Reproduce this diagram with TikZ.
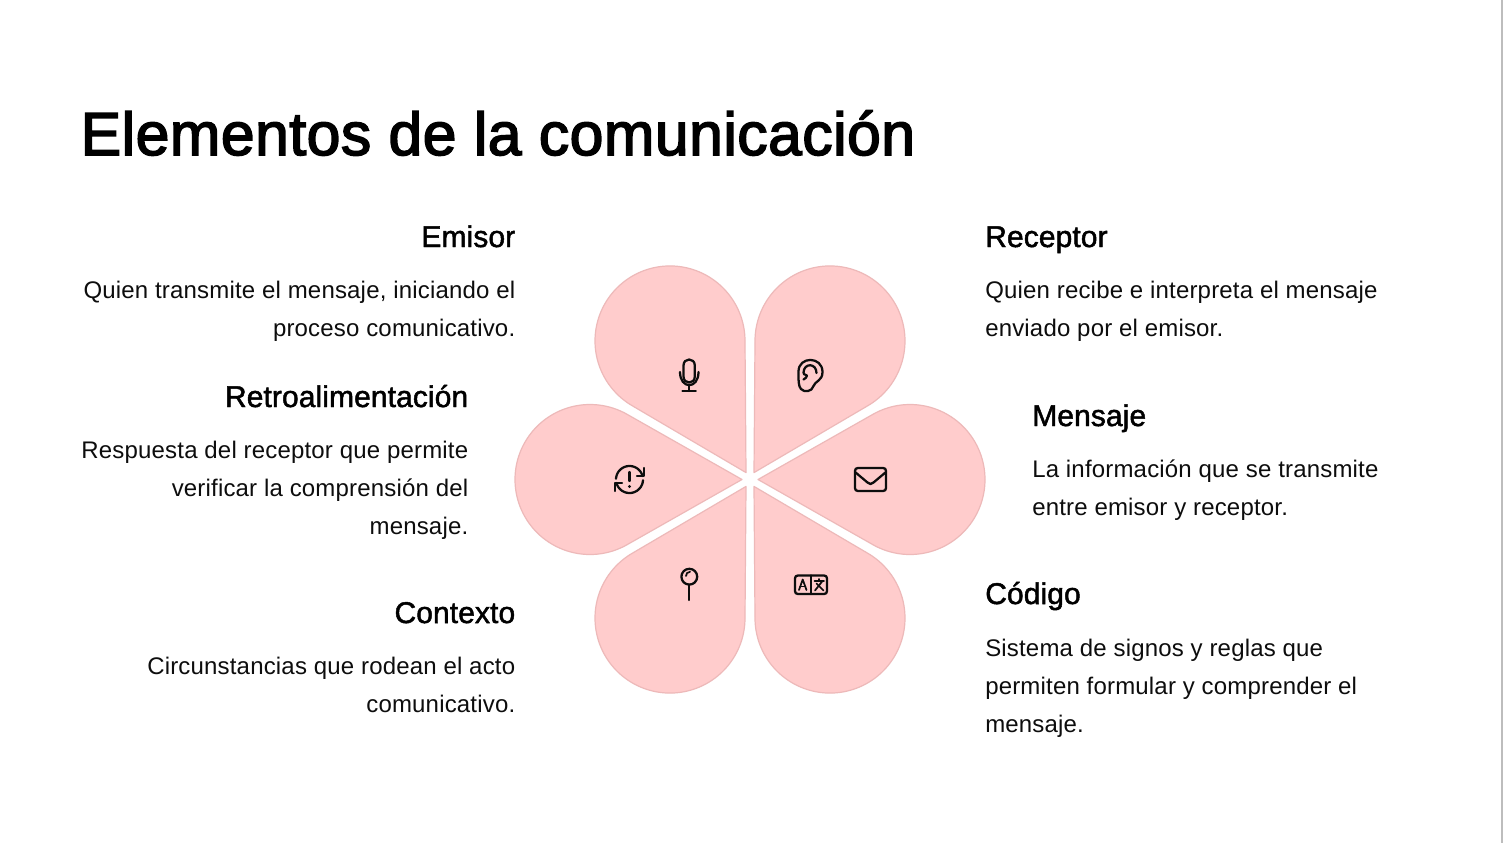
\documentclass[tikz,border=0pt]{standalone}
\usepackage{fontspec}
\setmainfont{Liberation Sans}
\newfontfamily\bodyf{Liberation Sans}[LetterSpace=0.75]
\newfontfamily\headf{Liberation Sans}[LetterSpace=0.3,FakeBold=1.6]
\newfontfamily\titlef{Liberation Sans}[LetterSpace=0.8,FakeBold=2.6]
\definecolor{petalfill}{HTML}{FFCCCC}
\definecolor{petaledge}{HTML}{EDB9B9}
\definecolor{inkc}{HTML}{0D0D0D}
\definecolor{edgec}{HTML}{BDBDBD}
\tikzset{
  x=0.75pt,y=-0.75pt,
  petal/.style={fill=petalfill,draw=petaledge,line width=0.9pt,line join=round},
  icon/.style={draw=inkc,line width=1.7pt,line cap=round,line join=round},
  thinicon/.style={draw=inkc,line width=1.3pt,line cap=round,line join=round},
  titletext/.style={inner sep=0pt,anchor=base west,text=black,font=\titlef\fontsize{45.5pt}{54pt}\selectfont},
  headtext/.style={inner sep=0pt,text=black,font=\headf\fontsize{22.5pt}{27pt}\selectfont},
  bodytext/.style={inner sep=0pt,text=inkc,font=\bodyf\fontsize{18pt}{28.5pt}\selectfont},
  bodyr/.style={bodytext,anchor=base east,align=right},
  bodyl/.style={bodytext,anchor=base west,align=left},
}
\begin{document}
\begin{tikzpicture}
\useasboundingbox (0,0) rectangle (1503,843);
\fill[white] (0,0) rectangle (1503,843);
\fill[edgec] (1501.3,0) rectangle (1503,843);
% petals
\foreach \ang in {60,120,180,240,300,360}{
  \begin{scope}[shift={(750,479.5)},rotate=\ang]
    \draw[petal] (8,0) -- plot[domain=119.56:-119.56,samples=121] ({160+75*cos(\x)},{75*sin(\x)}) -- cycle;
  \end{scope}
}
% microphone
\draw[icon] (683.5,365.5) -- (683.5,376.5) .. controls (683.5,384.5) and (694.8,384.5) .. (694.8,376.5) -- (694.8,365.5) .. controls (694.8,357.5) and (683.5,357.5) .. (683.5,365.5) -- cycle;
\draw[icon] (680,372) .. controls (680,389.5) and (698.5,389.5) .. (698.5,372);
\draw[icon] (689.2,386) -- (689.2,391);
\draw[icon] (682.5,391) -- (695.8,391);
% ear
\draw[icon] (798.5,371.5) .. controls (798.5,356) and (822.5,356) .. (822.5,372) .. controls (822.5,381) and (815,381) .. (813.5,386) .. controls (812,392) and (804,392.5) .. (801,389) .. controls (798.5,386) and (798.5,382) .. (798.5,371.5) -- cycle;
\draw[icon] (816.5,373) .. controls (816.5,363) and (804,362.5) .. (803.5,372.5) .. controls (803.5,374) and (804,374.5) .. (807,375.5) .. controls (807.5,377) and (805,378.5) .. (803.5,379.5);
% feedback
\draw[icon] plot[domain=183:345,samples=40] ({629.5+13.5*cos(\x)},{479.5+13.5*sin(\x)});
\draw[icon] plot[domain=3:165,samples=40] ({629.5+13.5*cos(\x)},{479.5+13.5*sin(\x)});
\draw[icon] (644.3,468) -- (644.3,476) -- (637,476);
\draw[icon] (614.7,491) -- (614.7,483) -- (622,483);
\draw[icon] (629.5,472) -- (629.5,481);
\fill[inkc] (629.5,486.5) circle[radius=1.6];
% mail
\draw[icon] (858,468) -- (883,468) .. controls (885,468) and (886,469) .. (886,471) -- (886,488) .. controls (886,490) and (885,491) .. (883,491) -- (858,491) .. controls (856,491) and (855,490) .. (855,488) -- (855,471) .. controls (855,469) and (856,468) .. (858,468) -- cycle;
\draw[icon] (855,472) -- (867.5,482.5) .. controls (869.5,484.5) and (871.5,484.5) .. (873.5,482.5) -- (886,472);
% pin
\draw[icon] (689.3,576.7) circle[radius=7.9];
\draw[icon] (689.3,584.8) -- (689.3,600);
\draw[thinicon] (686,576) .. controls (686,573.5) and (687.5,572) .. (690,571.8);
% translate
\draw[icon] (798,575.5) -- (824,575.5) .. controls (826,575.5) and (827,576.5) .. (827,578.5) -- (827,591) .. controls (827,593) and (826,594) .. (824,594) -- (798,594) .. controls (796,594) and (795,593) .. (795,591) -- (795,578.5) .. controls (795,576.5) and (796,575.5) .. (798,575.5) -- cycle;
\draw[icon] (810.8,575.5) -- (810.8,594);
\draw[thinicon] (799,590) -- (802.7,579.5) -- (806.5,590);
\draw[thinicon] (800.2,586.5) -- (805.2,586.5);
\draw[thinicon] (814.5,581) -- (824,581);
\draw[thinicon] (819,579) -- (819,581);
\draw[thinicon] (822.5,581) -- (815,590.5);
\draw[thinicon] (816.5,583.5) -- (823.5,590.5);
% text (the base of a multi-line node is its last line)
\node[titletext] (title) at (80.5,155) {Elementos de la comunicación};
\node[headtext,anchor=base east] (hemisor) at (515.5,247) {Emisor};
\node[bodyr] (bemisor) at (515.5,336) {Quien transmite el mensaje, iniciando el\\proceso comunicativo.};
\node[headtext,anchor=base east] (hretro) at (468.5,407) {Retroalimentación};
\node[bodyr] (bretro) at (468.5,534) {Respuesta del receptor que permite\\verificar la comprensión del\\mensaje.};
\node[headtext,anchor=base east] (hcontexto) at (515.5,623) {Contexto};
\node[bodyr] (bcontexto) at (515.5,712) {Circunstancias que rodean el acto\\comunicativo.};
\node[headtext,anchor=base west] (hreceptor) at (985,247) {Receptor};
\node[bodyl] (breceptor) at (985,336) {Quien recibe e interpreta el mensaje\\enviado por el emisor.};
\node[headtext,anchor=base west] (hmensaje) at (1032,426) {Mensaje};
\node[bodyl] (bmensaje) at (1032,515) {La información que se transmite\\entre emisor y receptor.};
\node[headtext,anchor=base west] (hcodigo) at (985,604) {Código};
\node[bodyl] (bcodigo) at (985,732) {Sistema de signos y reglas que\\permiten formular y comprender el\\mensaje.};
\end{tikzpicture}
\end{document}
